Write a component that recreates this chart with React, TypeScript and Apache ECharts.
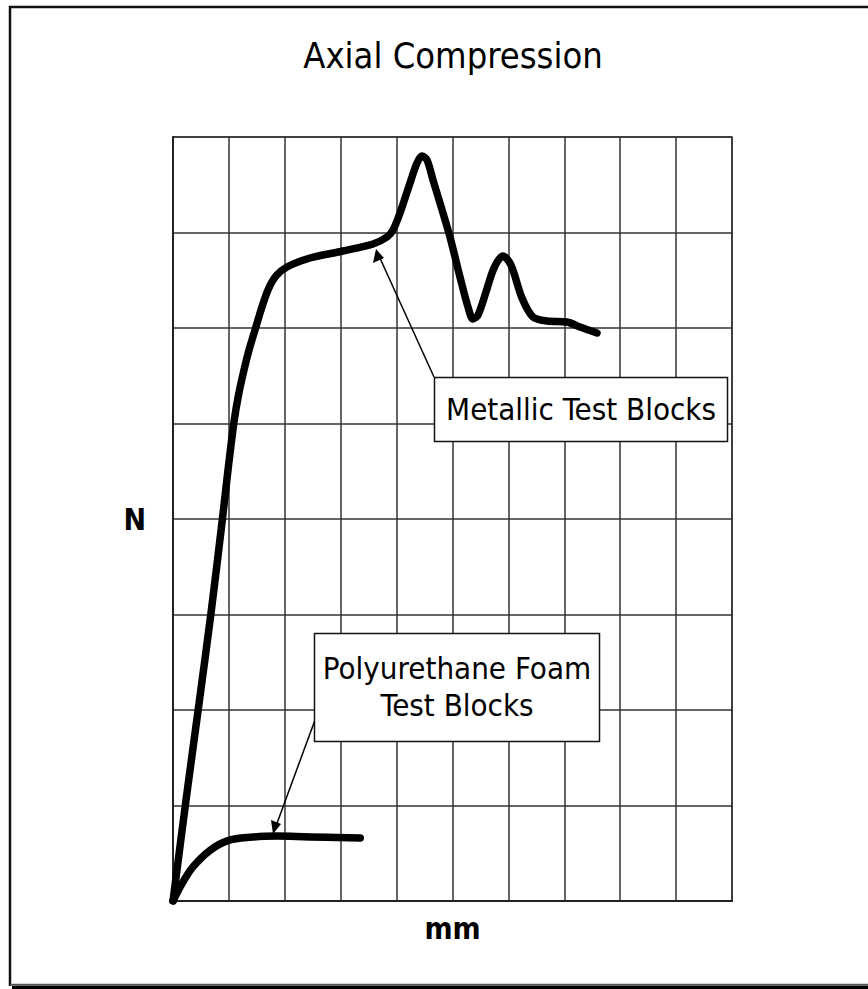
import React, { useEffect, useRef } from "react";
import * as echarts from "echarts";

const TITLE = "Axial Compression";
const X_NAME = "mm";
const Y_NAME = "N";
const X_MAX = 10;
const Y_MAX = 8;

// Metallic test blocks curve (x in mm grid units, y in N grid units)
const metallicX = [0, 0.233, 0.474, 0.68, 0.886, 0.984, 1.091, 1.172, 1.27, 1.36, 1.467, 1.574, 1.699, 1.843, 2.039, 2.451, 3.041, 3.578, 3.828, 3.936, 4.061, 4.24, 4.365, 4.454, 4.544, 4.651, 4.776, 4.955, 5.134, 5.277, 5.367, 5.456, 5.599, 5.742, 5.903, 6.046, 6.243, 6.44, 6.691, 7.048, 7.281, 7.585];
const metallicY = [0, 1.058, 2.105, 3.016, 4.01, 4.513, 5.016, 5.298, 5.56, 5.77, 5.979, 6.188, 6.398, 6.545, 6.639, 6.733, 6.806, 6.88, 6.953, 7.026, 7.204, 7.518, 7.728, 7.801, 7.759, 7.55, 7.309, 6.953, 6.534, 6.22, 6.094, 6.136, 6.377, 6.628, 6.754, 6.66, 6.314, 6.115, 6.073, 6.063, 6.01, 5.948];

// Polyurethane foam test blocks curve
const foamX = [0, 0.18, 0.36, 0.66, 0.97, 1.43, 1.86, 2.45, 3.35];
const foamY = [0, 0.2, 0.36, 0.53, 0.63, 0.67, 0.68, 0.67, 0.66];

const LABEL_METALLIC = "Metallic Test Blocks";
const LABEL_FOAM = ["Polyurethane Foam", "Test Blocks"];

const FONT = "'DejaVu Sans Condensed', 'DejaVu Sans', sans-serif";

export default function App() {
  const ref = useRef<HTMLDivElement>(null);
  useEffect(() => {
    if (!ref.current) return;
    const chart = echarts.init(ref.current, undefined, { renderer: "svg" });
    const toPairs = (xs: number[], ys: number[]) => xs.map((x, i) => [x, ys[i]]);
    const axisCommon = {
      min: 0,
      interval: 1,
      axisLabel: { show: false },
      axisTick: { show: false },
      axisLine: { show: true, lineStyle: { color: "#222", width: 2 } },
      splitLine: { show: true, lineStyle: { color: "#333", width: 1.5 } },
    };
    const Z = 20;
    const textStyle = (text: string, size: number) => ({
      text,
      fontFamily: FONT,
      fontSize: size,
      fill: "#000",
      align: "center",
      verticalAlign: "middle",
    });
    chart.setOption({
      animation: false,
      backgroundColor: "#fff",
      grid: {
        left: 173,
        top: 137,
        width: 559,
        height: 764,
        show: true,
        borderColor: "#333",
        borderWidth: 1.5,
      },
      xAxis: {
        type: "value",
        ...axisCommon,
        max: X_MAX,
        name: X_NAME,
        nameLocation: "middle",
        nameGap: 12,
        nameTextStyle: { fontFamily: FONT, fontWeight: "bold", fontSize: 30, color: "#000" },
      },
      yAxis: {
        type: "value",
        ...axisCommon,
        max: Y_MAX,
        name: Y_NAME,
        nameLocation: "middle",
        nameRotate: 0,
        nameGap: 27,
        nameTextStyle: { fontFamily: FONT, fontWeight: "bold", fontSize: 30, color: "#000" },
      },
      series: [
        {
          type: "line",
          data: toPairs(metallicX, metallicY),
          smooth: 0.3,
          showSymbol: false,
          symbol: "none",
          lineStyle: { color: "#000", width: 7.5, cap: "round", join: "round" },
        },
        {
          type: "line",
          data: toPairs(foamX, foamY),
          smooth: 0.4,
          showSymbol: false,
          symbol: "none",
          lineStyle: { color: "#000", width: 7.5, cap: "round", join: "round" },
        },
      ],
      graphic: [
        {
          type: "polyline",
          z: Z,
          shape: { points: [[10, 986], [10, 7], [870, 7]] },
          style: { fill: "none", stroke: "#111", lineWidth: 2.5 },
          silent: true,
        },
        {
          type: "line",
          z: Z,
          shape: { x1: 10, y1: 984.5, x2: 870, y2: 984.5 },
          style: { stroke: "#555", lineWidth: 1.5 },
          silent: true,
        },
        {
          type: "rect",
          z: Z,
          shape: { x: 12, y: 985.5, width: 860, height: 4 },
          style: { fill: "#000" },
          silent: true,
        },
        {
          type: "text",
          z: Z,
          x: 453,
          y: 55,
          style: textStyle(TITLE, 36),
        },
        // Metallic annotation arrow
        {
          type: "line",
          z: Z,
          shape: { x1: 434, y1: 377, x2: 379, y2: 256 },
          style: { stroke: "#000", lineWidth: 1.5 },
        },
        {
          type: "polygon",
          z: Z,
          shape: { points: [[376, 249], [373, 263], [384, 258]] },
          style: { fill: "#000" },
        },
        {
          type: "rect",
          z: Z,
          shape: { x: 434.5, y: 377.5, width: 293, height: 64 },
          style: { fill: "#fff", stroke: "#111", lineWidth: 1.5 },
        },
        {
          type: "text",
          z: Z + 1,
          x: 581,
          y: 409,
          style: textStyle(LABEL_METALLIC, 31),
        },
        // Foam annotation arrow
        {
          type: "line",
          z: Z,
          shape: { x1: 315, y1: 720, x2: 276, y2: 826 },
          style: { stroke: "#000", lineWidth: 1.5 },
        },
        {
          type: "polygon",
          z: Z,
          shape: { points: [[273, 834], [271, 820], [281, 824]] },
          style: { fill: "#000" },
        },
        {
          type: "rect",
          z: Z,
          shape: { x: 314.5, y: 633.5, width: 285, height: 108 },
          style: { fill: "#fff", stroke: "#111", lineWidth: 1.5 },
        },
        {
          type: "text",
          z: Z + 1,
          x: 457,
          y: 668,
          style: textStyle(LABEL_FOAM[0], 31),
        },
        {
          type: "text",
          z: Z + 1,
          x: 457,
          y: 705,
          style: textStyle(LABEL_FOAM[1], 31),
        },
      ],
    });
    return () => chart.dispose();
  }, []);
  return (
    <div
      ref={ref}
      style={{ position: "absolute", left: 0, top: 0, width: 868, height: 989 }}
    />
  );
}
